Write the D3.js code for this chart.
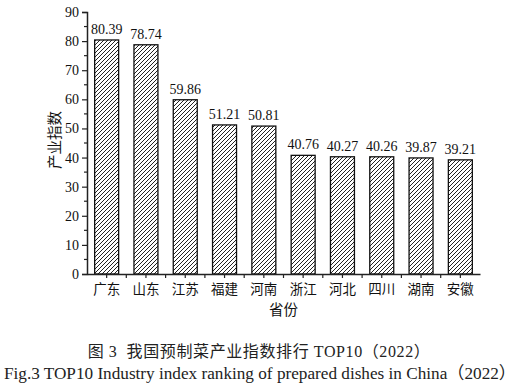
<!DOCTYPE html>
<html>
<head>
<meta charset="utf-8">
<script src="https://cdn.jsdelivr.net/npm/d3@7"></script>
<style>
  body { margin: 0; background: #fff; }
  svg { display: block; }
</style>
</head>
<body>
<div id="chart"></div>
<script>
const provinces = ["广东", "山东", "江苏", "福建", "河南", "浙江", "河北", "四川", "湖南", "安徽"];
const indexValues = [80.39, 78.74, 59.86, 51.21, 50.81, 40.76, 40.27, 40.26, 39.87, 39.21];
const yTicks = [0, 10, 20, 30, 40, 50, 60, 70, 80, 90];

const W = 528, H = 391;
const plot = { left: 87, right: 480, top: 12, bottom: 274 };
const serif = "'Liberation Serif', 'Times New Roman', serif";
const cjk = "'Noto Sans CJK SC', sans-serif";

const svg = d3.select("#chart")
  .append("svg")
  .attr("width", W)
  .attr("height", H);

// hatch pattern for bars
const defs = svg.append("defs");
const pat = defs.append("pattern")
  .attr("id", "hatch")
  .attr("patternUnits", "userSpaceOnUse")
  .attr("width", 4)
  .attr("height", 4);
pat.append("rect").attr("width", 4).attr("height", 4).attr("fill", "#fff");
pat.append("path")
  .attr("d", "M-1,1 l2,-2 M0,4 l4,-4 M3,5 l2,-2")
  .attr("stroke", "#222")
  .attr("stroke-width", 1);

const x = d3.scaleBand()
  .domain(provinces)
  .range([plot.left, plot.right])
  .paddingInner(0.39)
  .paddingOuter(0.195);

const y = d3.scaleLinear()
  .domain([0, 90])
  .range([plot.bottom, plot.top]);

// bars
svg.selectAll(".bar")
  .data(provinces)
  .enter()
  .append("rect")
  .attr("class", "bar")
  .attr("x", d => x(d))
  .attr("y", (d, i) => y(indexValues[i]))
  .attr("width", x.bandwidth())
  .attr("height", (d, i) => y(0) - y(indexValues[i]))
  .attr("fill", "url(#hatch)")
  .attr("stroke", "#111")
  .attr("stroke-width", 1.3);

// value labels
svg.selectAll(".val")
  .data(provinces)
  .enter()
  .append("text")
  .attr("class", "val")
  .attr("x", d => x(d) + x.bandwidth() / 2)
  .attr("y", (d, i) => y(indexValues[i]) - 6)
  .attr("text-anchor", "middle")
  .attr("font-family", serif)
  .attr("font-size", "14px")
  .attr("fill", "#111")
  .text((d, i) => indexValues[i].toFixed(2));

// y axis
const yAxis = svg.append("g")
  .attr("transform", "translate(" + plot.left + ",0)")
  .call(d3.axisLeft(y).tickValues(yTicks).tickSize(5).tickPadding(3).tickFormat(d3.format("d")));
yAxis.select(".domain").attr("stroke-width", 1.5).attr("stroke", "#222");
yAxis.selectAll(".tick line").attr("stroke-width", 1.2).attr("stroke", "#222");
yAxis.selectAll("text")
  .attr("font-family", serif)
  .attr("font-size", "14px")
  .attr("fill", "#111");

// minor y ticks
svg.append("g")
  .selectAll("line")
  .data(yTicks.slice(0, -1).map(v => v + 5))
  .enter()
  .append("line")
  .attr("x1", plot.left - 3)
  .attr("x2", plot.left)
  .attr("y1", d => y(d))
  .attr("y2", d => y(d))
  .attr("stroke", "#222")
  .attr("stroke-width", 1.2);

// x axis
const xAxis = svg.append("g")
  .attr("transform", "translate(0," + plot.bottom + ")")
  .call(d3.axisBottom(x).tickSize(4).tickPadding(6).tickSizeOuter(0));
xAxis.select(".domain").attr("stroke-width", 1.5).attr("stroke", "#222");
xAxis.selectAll(".tick line").attr("stroke-width", 1.2).attr("stroke", "#222");
xAxis.selectAll("text")
  .attr("font-family", cjk)
  .attr("font-size", "13.5px")
  .attr("fill", "#111");

// minor x ticks between bars
svg.append("g")
  .selectAll("line")
  .data(provinces.slice(1))
  .enter()
  .append("line")
  .attr("x1", d => x(d) - x.step() * x.paddingInner() / 2)
  .attr("x2", d => x(d) - x.step() * x.paddingInner() / 2)
  .attr("y1", plot.bottom)
  .attr("y2", plot.bottom + 4)
  .attr("stroke", "#222")
  .attr("stroke-width", 1.2);

// axis titles
svg.append("text")
  .attr("x", (plot.left + plot.right) / 2)
  .attr("y", 315)
  .attr("text-anchor", "middle")
  .attr("font-family", cjk)
  .attr("font-size", "14.5px")
  .attr("fill", "#111")
  .text("省份");

svg.append("text")
  .attr("transform", "translate(60," + 140 + ") rotate(-90)")
  .attr("text-anchor", "middle")
  .attr("font-family", cjk)
  .attr("font-size", "14.5px")
  .attr("fill", "#111")
  .text("产业指数");

// captions
svg.append("text")
  .attr("x", 259)
  .attr("y", 357)
  .attr("text-anchor", "middle")
  .attr("font-family", serif + ", 'Noto Sans CJK SC'")
  .attr("font-size", "16px")
  .attr("letter-spacing", "0.6px")
  .style("white-space", "pre")
  .attr("fill", "#222")
  .text("图 3  我国预制菜产业指数排行 TOP10（2022）");

svg.append("text")
  .attr("x", 260)
  .attr("y", 379)
  .attr("text-anchor", "middle")
  .attr("font-family", serif + ", 'Noto Sans CJK SC'")
  .attr("font-size", "17.2px")
  .attr("fill", "#222")
  .text("Fig.3 TOP10 Industry index ranking of prepared dishes in China（2022）");
</script>
</body>
</html>
